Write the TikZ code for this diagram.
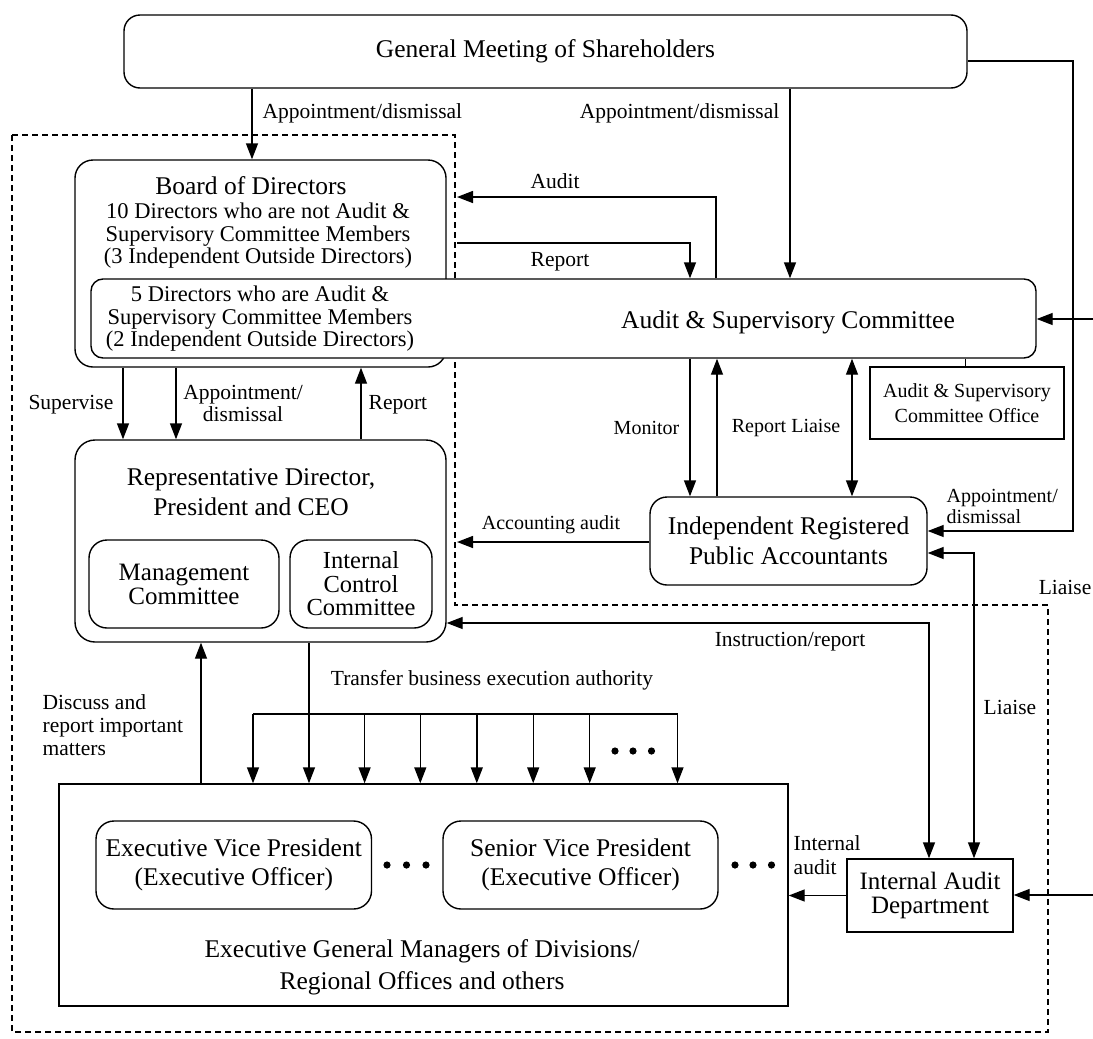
\documentclass[tikz,border=0pt]{standalone}
\usepackage{fontspec}
\setmainfont{Liberation Serif}
\usetikzlibrary{arrows.meta}
\begin{document}
\begin{tikzpicture}[x=1pt,y=-1pt, line width=1.4pt,
  every node/.style={inner sep=0pt},
  box/.style={draw, fill=white, line width=1.4pt},
  big/.style={font=\fontsize{25.5}{30}\selectfont, align=center},
  mid/.style={font=\fontsize{22.5}{22.5}\selectfont, align=center},
  lab/.style={font=\fontsize{21.5}{22}\selectfont, align=center},
  labl/.style={font=\fontsize{21.5}{22}\selectfont, align=left},
  labs/.style={font=\fontsize{20}{21}\selectfont, align=center},
  labsl/.style={font=\fontsize{20}{21}\selectfont, align=left},
  arr/.style={-{Triangle[length=16pt,width=12pt]}},
  arrb/.style={{Triangle[length=16pt,width=12pt]}-{Triangle[length=16pt,width=12pt]}},
  dashline/.style={dash pattern=on 6pt off 4pt, line width=1.2pt}
]
\useasboundingbox (0,0) rectangle (1093,1039);
\fill[white] (0,0) rectangle (1093,1039);

% dashed region
\draw[dashline] (12,135) -- (455,135) -- (455,605) -- (1048,605) -- (1048,1032) -- (12,1032) -- cycle;

% boxes
\node[box, rounded corners=16pt, minimum width=843pt, minimum height=73pt, big] (gm) at (545.5,51.5) {General Meeting of Shareholders};

\node[box, rounded corners=18pt, minimum width=371pt, minimum height=207pt] (board) at (260.5,263.5) {};
\node[big] (boardT) at (251,186) {Board of Directors};
\node[mid] (boardS) at (258,236) {10 Directors who are not Audit \&\\Supervisory Committee Members\\(3 Independent Outside Directors)};

\node[box, rounded corners=12pt, minimum width=945pt, minimum height=79pt] (asc) at (563.5,318.5) {};
\node[mid] (ascL) at (260,319) {5 Directors who are Audit \&\\Supervisory Committee Members\\(2 Independent Outside Directors)};
\node[big] (ascT) at (788,322) {Audit \& Supervisory Committee};

\node[box, minimum width=194pt, minimum height=72pt, font=\fontsize{20}{25}\selectfont, align=center] (ascoff) at (967,403) {Audit \& Supervisory\\Committee Office};

\node[box, rounded corners=20pt, minimum width=371pt, minimum height=202pt] (rep) at (260.5,541) {};
\node[big] (repT) at (251,492) {Representative Director,\\President and CEO};
\node[box, rounded corners=18pt, minimum width=190pt, minimum height=88pt, font=\fontsize{25}{24}\selectfont, align=center] (mc) at (184,584) {Management\\Committee};
\node[box, rounded corners=18pt, minimum width=142pt, minimum height=88pt, font=\fontsize{24.5}{23.5}\selectfont, align=center] (icc) at (361,584) {Internal\\Control\\Committee};

\node[box, rounded corners=17pt, minimum width=277pt, minimum height=88pt, big] (irpa) at (788.5,541) {Independent Registered\\Public Accountants};

\node[box, minimum width=166pt, minimum height=73pt, font=\fontsize{25}{24}\selectfont, align=center] (iad) at (930,895.5) {Internal Audit\\Department};

\node[box, minimum width=729pt, minimum height=222pt] (egm) at (423.5,895) {};
\node[box, rounded corners=18pt, minimum width=275.5pt, minimum height=88pt, font=\fontsize{25.5}{29}\selectfont, align=center] (evp) at (233.75,865) {Executive Vice President\\(Executive Officer)};
\node[box, rounded corners=18pt, minimum width=275pt, minimum height=88pt, font=\fontsize{25.5}{29}\selectfont, align=center] (svp) at (580.5,865) {Senior Vice President\\(Executive Officer)};
\node[font=\fontsize{25.5}{32}\selectfont, align=center] (egmT) at (422,967) {Executive General Managers of Divisions/\\Regional Offices and others};

% dots
\foreach \x in {387,406.5,426} \fill (\x,865) circle (3.6pt);
\foreach \x in {735,753,771.5} \fill (\x,865) circle (3.6pt);
\foreach \x in {615,633,651.5} \fill (\x,751) circle (3.6pt);

% helper coordinates
\coordinate (xA) at (252,0);
\coordinate (xB) at (790,0);
\coordinate (rt) at (1073,61);
\coordinate (rb) at (1073,531);
\coordinate (au1) at (716,197);
\coordinate (au2) at (457,197);
\coordinate (rp0) at (457,243);
\coordinate (rp1) at (690,243);
\coordinate (edgeA) at (1093,319);
\coordinate (edgeB) at (1093,895);
\coordinate (xS) at (123,0);
\coordinate (xAp) at (176,0);
\coordinate (xRp) at (361,0);
\coordinate (xM) at (690,0);
\coordinate (xR2) at (717,0);
\coordinate (xL) at (852,0);
\coordinate (xO) at (965.5,0);
\coordinate (acc) at (457,542);
\coordinate (lz) at (974,553);
\coordinate (ir) at (929,623);
\coordinate (xD) at (201,0);
\coordinate (xT) at (309,0);
\coordinate (barL) at (253,714);
\coordinate (barR) at (677.5,714);

% connectors
\draw[arr] (gm.south -| xA) -- (board.north -| xA);
\draw[arr] (gm.south -| xB) -- (asc.north -| xB);
\draw[arr] (gm.east |- rt) -- (rt) -- (rb) -- (irpa.east |- rb);
\draw[arr] (asc.north -| au1) -- (au1) -- (au2);
\draw[arr] (rp0) -- (rp1) -- (asc.north -| rp1);
\draw[arr] (edgeA) -- (asc.east |- edgeA);
\draw[arr] (edgeB) -- (iad.east |- edgeB);
\draw (asc.south -| xO) -- (ascoff.north -| xO);

\draw[arr] (board.south -| xS) -- (rep.north -| xS);
\draw[arr] (board.south -| xAp) -- (rep.north -| xAp);
\draw[arr] (rep.north -| xRp) -- (board.south -| xRp);

\draw[arr] (asc.south -| xM) -- (irpa.north -| xM);
\draw[arr] (irpa.north -| xR2) -- (asc.south -| xR2);
\draw[arrb] (asc.south -| xL) -- (irpa.north -| xL);

\draw[arr] (irpa.west |- acc) -- (acc);
\draw[arrb] (irpa.east |- lz) -- (lz) -- (iad.north -| lz);
\draw[arrb] (rep.east |- ir) -- (ir) -- (iad.north -| ir);
\draw[arr] (iad.west) -- (egm.east |- iad.west);

\draw[arr] (egm.north -| xD) -- (rep.south -| xD);
\draw[arr] (rep.south -| xT) -- (egm.north -| xT);
\draw (barL) -- (barR);
\foreach \x [count=\i] in {253,364.6,420.3,476.8,533.2,589.7,677.5} {
  \coordinate (tb\i) at (\x,714);
  \draw[arr] (tb\i) -- (egm.north -| tb\i);
}

% labels
\node[lab, anchor=west] (l1) at (262,113) {Appointment/dismissal};
\node[lab, anchor=east] (l2) at (780,113) {Appointment/dismissal};
\node[lab] (l3) at (555,181) {Audit};
\node[lab] (l4) at (560,262) {Report};
\node[lab, anchor=east] (l5) at (114,405) {Supervise};
\node[lab] (l6) at (243,403) {Appointment/\\dismissal};
\node[lab, anchor=west] (l7) at (368,405) {Report};
\node[labs, anchor=east] (l8) at (680,428) {Monitor};
\node[labs] (l9) at (786,428) {Report Liaise};
\node[labsl, anchor=west] (l10) at (946,506) {Appointment/\\dismissal};
\node[labs] (l11) at (551,525) {Accounting audit};
\node[lab, anchor=east] (l12) at (1092,587) {Liaise};
\node[lab] (l13) at (790,642) {Instruction/report};
\node[lab] (l14) at (492,680) {Transfer business execution authority};
\node[labl, anchor=west, font=\fontsize{21.5}{23}\selectfont] (l15) at (42,725) {Discuss and\\report important\\matters};
\node[lab, anchor=west] (l16) at (983,707) {Liaise};
\node[labl, anchor=west, font=\fontsize{21.5}{24}\selectfont] (l17) at (793,855) {Internal\\audit};
\end{tikzpicture}
\end{document}
